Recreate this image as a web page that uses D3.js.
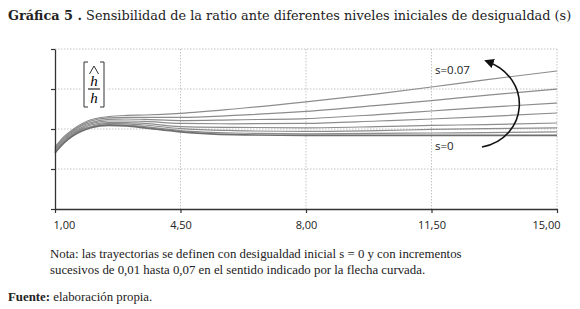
<!DOCTYPE html>
<html>
<head>
  <meta charset="utf-8">
  <style>
    body { margin: 0; background: #fff; }
    .title { font: 13px "DejaVu Serif", serif; fill: #222; }
    .note { font: 12.5px "Liberation Serif", serif; fill: #222; }
    .tick text { font: 11px "Open Sans", sans-serif; fill: #222; }
    .lbl { font: 11.5px "Open Sans", sans-serif; fill: #222; }
  </style>
  <script src="https://d3js.org/d3.v7.min.js"></script>
</head>
<body>
  <svg width="580" height="309"></svg>
  <script>
    var xs = [1, 1.25, 1.5, 1.75, 2, 2.5, 3, 3.5, 4.5, 6, 8, 10, 11.5, 13, 15];
    var s0 = [0.940, 0.965, 0.983, 0.995, 1.003, 1.009, 1.008, 1.003, 0.993, 0.986, 0.984, 0.984, 0.984, 0.984, 0.984];
    var s1 = [0.943, 0.968, 0.985, 0.998, 1.005, 1.011, 1.010, 1.006, 0.996, 0.990, 0.988, 0.989, 0.990, 0.991, 0.993];
    var s2 = [0.944, 0.969, 0.986, 0.999, 1.006, 1.014, 1.013, 1.010, 1.001, 0.996, 0.994, 0.996, 0.999, 1.001, 1.003];
    var s3 = [0.946, 0.971, 0.989, 1.001, 1.010, 1.016, 1.016, 1.014, 1.006, 1.004, 1.003, 1.006, 1.009, 1.011, 1.015];
    var s4 = [0.948, 0.974, 0.991, 1.004, 1.013, 1.020, 1.020, 1.019, 1.014, 1.013, 1.014, 1.020, 1.025, 1.031, 1.040];
    var s5 = [0.950, 0.976, 0.994, 1.008, 1.016, 1.024, 1.025, 1.024, 1.021, 1.023, 1.026, 1.036, 1.045, 1.054, 1.065];
    var s6 = [0.953, 0.979, 0.996, 1.010, 1.020, 1.028, 1.029, 1.029, 1.029, 1.034, 1.044, 1.059, 1.071, 1.084, 1.100];
    var s7 = [0.955, 0.981, 0.999, 1.013, 1.023, 1.031, 1.034, 1.035, 1.039, 1.050, 1.068, 1.088, 1.105, 1.123, 1.145];
    var series = [s7, s6, s5, s4, s3, s2, s1, s0];
    var xTicks = [1, 4.5, 8, 11.5, 15];
    var yTicks = [0.8, 0.9, 1.0, 1.1, 1.2];

    var svg = d3.select("svg");
    var x = d3.scaleLinear().domain([1, 15]).range([55, 557]);
    var y = d3.scaleLinear().domain([0.8, 1.2]).range([209, 49]);

    // scale a text's font so it spans the wanted width
    function fitWidth(sel, w) {
      var fs = parseFloat(getComputedStyle(sel.node()).fontSize);
      var len = sel.node().getComputedTextLength();
      sel.style("font-size", (fs * w / len) + "px");
    }

    // title
    var t = svg.append("text").attr("class", "title").attr("x", 8).attr("y", 20);
    t.append("tspan").attr("font-weight", "bold").text("Gráfica 5 .");
    t.append("tspan").text(" Sensibilidad de la ratio ante diferentes niveles iniciales de desigualdad (s)");
    fitWidth(t, 564);

    // grid
    var grid = svg.append("g").attr("stroke", "#b5b5b5").attr("stroke-width", 0.8).attr("stroke-dasharray", "1.5,1.5");
    grid.selectAll(".hg").data(yTicks.slice(1)).enter().append("line")
      .attr("x1", x(1)).attr("x2", x(15))
      .attr("y1", function (d) { return y(d); }).attr("y2", function (d) { return y(d); });
    grid.selectAll(".vg").data(xTicks.slice(1)).enter().append("line")
      .attr("y1", y(1.2)).attr("y2", y(0.8))
      .attr("x1", function (d) { return x(d); }).attr("x2", function (d) { return x(d); });

    // y label box
    var lab = svg.append("g");
    lab.append("rect").attr("x", 82).attr("y", 61).attr("width", 25).attr("height", 48).attr("fill", "#fff");
    lab.append("path").attr("d", "M88,62 H84 V107 H88 M100,62 H104 V107 H100")
      .attr("fill", "none").attr("stroke", "#333").attr("stroke-width", 1);
    lab.append("path").attr("d", "M89.5,74 L94,66 L98.5,74").attr("fill", "none").attr("stroke", "#333").attr("stroke-width", 1);
    lab.append("text").attr("x", 94).attr("y", 86).attr("text-anchor", "middle")
      .attr("font-family", "Liberation Serif").attr("font-style", "italic").attr("font-size", 15).text("h");
    lab.append("line").attr("x1", 88).attr("x2", 100).attr("y1", 89).attr("y2", 89).attr("stroke", "#555").attr("stroke-width", 1.5);
    lab.append("text").attr("x", 94).attr("y", 103).attr("text-anchor", "middle")
      .attr("font-family", "Liberation Serif").attr("font-style", "italic").attr("font-size", 15).text("h");

    // lines
    var line = d3.line()
      .x(function (d, i) { return x(xs[i]); })
      .y(function (d) { return y(d); })
      .curve(d3.curveMonotoneX);
    svg.append("g").selectAll("path").data(series).enter().append("path")
      .attr("d", line)
      .attr("fill", "none")
      .attr("stroke", function (d, i) { return i == 7 ? "#6e6e6e" : "#8c8c8c"; })
      .attr("stroke-width", function (d, i) { return i == 7 ? 1.7 : 1.2; });

    // axes
    svg.append("g").attr("transform", "translate(0," + y(0.8) + ")")
      .call(d3.axisBottom(x).tickValues(xTicks).tickSize(4).tickSizeOuter(0)
        .tickFormat(function (d) { return d3.format(".2f")(d).replace(".", ","); }))
      .call(function (g) {
        g.select(".domain").attr("stroke", "#333").attr("stroke-width", 1.3);
        g.selectAll(".tick line").attr("stroke", "#333").attr("stroke-width", 1.2);
        g.selectAll(".tick text").attr("dy", "1.2em");
        g.selectAll(".tick text").filter(function (d) { return d == 1; })
          .attr("text-anchor", "start").attr("x", -2);
        g.selectAll(".tick text").filter(function (d) { return d == 15; })
          .attr("text-anchor", "end").attr("x", 3);
      });
    svg.append("g").attr("transform", "translate(" + x(1) + ",0)")
      .call(d3.axisLeft(y).tickValues(yTicks).tickSize(4).tickSizeOuter(0).tickFormat(""))
      .call(function (g) {
        g.select(".domain").attr("stroke", "#333").attr("stroke-width", 1.3);
        g.selectAll(".tick line").attr("stroke", "#333").attr("stroke-width", 1.2);
      });

    // annotations
    svg.append("defs").append("marker").attr("id", "ah")
      .attr("viewBox", "0 0 10 10").attr("refX", 8).attr("refY", 5)
      .attr("markerWidth", 6).attr("markerHeight", 6).attr("orient", "auto")
      .append("path").attr("d", "M0,0 L10,5 L0,10 Z").attr("fill", "#111");
    svg.append("path").attr("d", "M482,147 C528,138 534,78 486,61")
      .attr("fill", "none").attr("stroke", "#111").attr("stroke-width", 1.6)
      .attr("marker-end", "url(#ah)");
    svg.append("text").attr("class", "lbl").attr("x", 435).attr("y", 74).text("s=0.07");
    svg.append("text").attr("class", "lbl").attr("x", 435).attr("y", 150).text("s=0");

    // notes
    var n1 = svg.append("text").attr("class", "note").attr("x", 50).attr("y", 258)
      .text("Nota: las trayectorias se definen con desigualdad inicial s = 0 y con incrementos");
    fitWidth(n1, 412);
    var n2 = svg.append("text").attr("class", "note").attr("x", 50).attr("y", 274)
      .text("sucesivos de 0,01 hasta 0,07 en el sentido indicado por la flecha curvada.");
    n2.style("font-size", n1.style("font-size"));
    var f = svg.append("text").attr("class", "note").attr("x", 8).attr("y", 301);
    f.append("tspan").attr("font-weight", "bold").text("Fuente:");
    f.append("tspan").text(" elaboración propia.");
    f.style("font-size", n1.style("font-size"));
  </script>
</body>
</html>
